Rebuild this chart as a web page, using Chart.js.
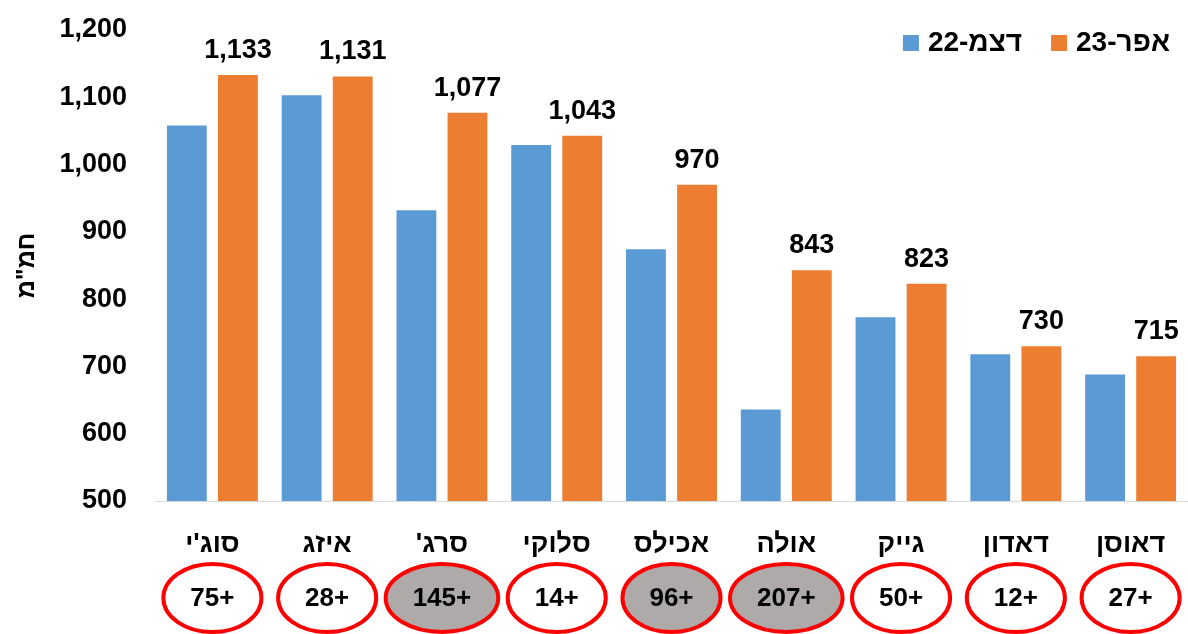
<!DOCTYPE html>
<html>
  <head>
    <title>Bar Chart</title>
    <script src="https://cdn.jsdelivr.net/npm/chart.js"></script>
    <style>
      body { margin: 0; background: #fff; }
      #wrap { width: 1188px; height: 634px; }
      #chart { direction: rtl; }
    </style>
  </head>
  <body>
    <div id="wrap"><canvas id="chart"></canvas></div>
    <script>
      const categories = ["סוג'י", "איזג", "סרג'", "סלוקי", "אכילס", "אולה", "גייק", "דאדון", "דאוסן"];
      const dec22 = [1058, 1103, 932, 1029, 874, 636, 773, 718, 688];
      const apr23 = [1133, 1131, 1077, 1043, 970, 843, 823, 730, 715];
      const diffLabels = ["+75", "+28", "+145", "+14", "+96", "+207", "+50", "+12", "+27"];
      const highlighted = [false, false, true, false, true, true, false, false, false];

      const FONT = "'Liberation Sans', 'DejaVu Sans', sans-serif";

      // value labels, legend in the top right corner, red ellipses under the names
      const extras = {
        id: "extras",
        afterDatasetsDraw(chart) {
          const ctx = chart.ctx;
          const meta = chart.getDatasetMeta(1);
          ctx.save();
          ctx.font = "bold 27px " + FONT;
          ctx.fillStyle = "#000";
          ctx.textAlign = "center";
          ctx.textBaseline = "alphabetic";
          meta.data.forEach((bar, i) => {
            ctx.fillText(apr23[i].toLocaleString("en-US"), bar.x, bar.y - 17);
          });
          ctx.restore();
        },
        afterDraw(chart) {
          const ctx = chart.ctx;
          ctx.save();

          // legend
          ctx.font = "bold 28px " + FONT;
          ctx.textBaseline = "middle";
          ctx.textAlign = "left";
          let xEnd = chart.chartArea.right - 18;
          const ly = 43;
          const sets = chart.data.datasets;
          for (let k = sets.length - 1; k >= 0; k--) {
            const tw = ctx.measureText(sets[k].label).width;
            const tx = xEnd - tw;
            ctx.fillStyle = "#000";
            ctx.fillText(sets[k].label, tx, ly);
            ctx.fillStyle = sets[k].backgroundColor;
            ctx.fillRect(tx - 25, ly - 8, 16, 16);
            xEnd = tx - 25 - 29;
          }

          // difference ellipses
          const x = chart.scales.x;
          const cy = 598;
          ctx.font = "bold 26px " + FONT;
          ctx.textAlign = "center";
          diffLabels.forEach((txt, i) => {
            const cx = x.getPixelForValue(i);
            const tw = ctx.measureText(txt).width;
            const rx = tw / 2 + 27;
            ctx.beginPath();
            ctx.ellipse(cx, cy, rx, 34, 0, 0, Math.PI * 2);
            ctx.fillStyle = highlighted[i] ? "#aeaaaa" : "#ffffff";
            ctx.fill();
            ctx.lineWidth = 4;
            ctx.strokeStyle = "#ff0000";
            ctx.stroke();
            ctx.fillStyle = "#000";
            ctx.fillText(txt, cx, cy + 1);
          });
          ctx.restore();
        },
      };

      new Chart(document.getElementById("chart"), {
        type: "bar",
        data: {
          labels: categories,
          datasets: [
            { label: "דצמ-22", data: dec22, backgroundColor: "#5b9bd5" },
            { label: "אפר-23", data: apr23, backgroundColor: "#ed7d31" },
          ],
        },
        options: {
          responsive: true,
          maintainAspectRatio: false,
          animation: false,
          layout: { padding: { top: 30, left: 0, right: 0, bottom: 0 } },
          datasets: { bar: { categoryPercentage: 0.89, barPercentage: 0.78 } },
          plugins: {
            tooltip: { enabled: false },
            legend: { display: false },
          },
          scales: {
            x: {
              grid: { display: false, drawTicks: false },
              border: { color: "#d9d9d9", width: 1 },
              ticks: {
                color: "#000",
                padding: 27,
                font: { family: FONT, size: 27, weight: "bold" },
              },
              afterFit(scale) {
                scale.height = 133;
                scale.paddingLeft = 0;
                scale.paddingRight = 0;
              },
            },
            y: {
              min: 500,
              max: 1200,
              grid: { display: false, drawTicks: false },
              border: { display: false },
              ticks: {
                stepSize: 100,
                color: "#000",
                padding: 28,
                font: { family: FONT, size: 27, weight: "bold" },
              },
              title: {
                display: true,
                text: 'חמ"מ',
                color: "#000",
                padding: { top: 12, bottom: 0 },
                font: { family: FONT, size: 25, weight: "bold" },
              },
              afterFit(scale) {
                scale.width = 155;
                scale.paddingTop = 0;
                scale.paddingBottom = 0;
              },
            },
          },
        },
        plugins: [extras],
      });
    </script>
  </body>
</html>
